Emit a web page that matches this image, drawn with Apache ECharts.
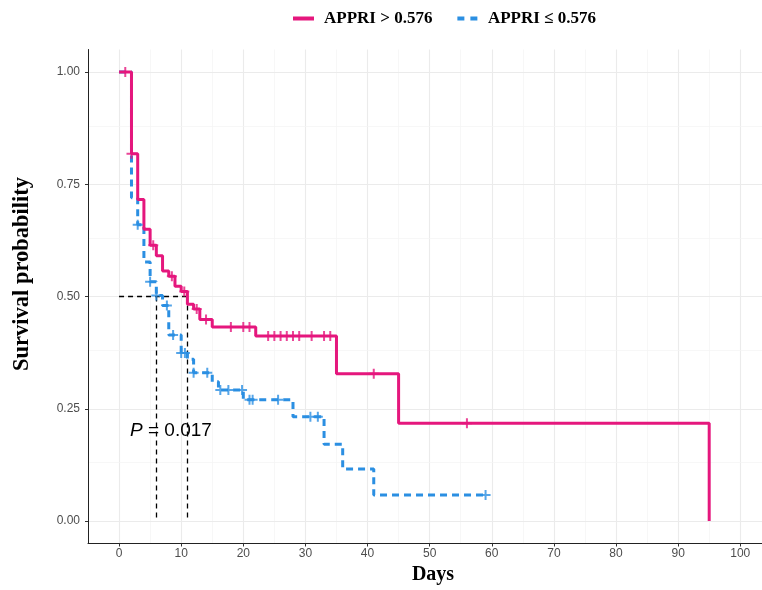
<!DOCTYPE html>
<html>
<head>
<meta charset="utf-8">
<script src="https://cdn.jsdelivr.net/npm/echarts@6/dist/echarts.min.js"></script>
<style>
  html, body { margin: 0; padding: 0; background: #fff; }
  #chart { width: 762px; height: 590px; }
</style>
</head>
<body>
<div id="chart"></div>
<script>
// Kaplan–Meier curves: event times and survival after each step
const highLabel = 'APPRI > 0.576';
const lowLabel = 'APPRI \u2264 0.576';

const highTime = [0, 2, 3, 4, 5, 6, 7, 8, 9, 10, 11, 12, 13, 15, 22, 35, 45, 95];
const highSurv = [1.00, 0.818, 0.716, 0.650, 0.614, 0.591, 0.557, 0.545, 0.523, 0.511, 0.483, 0.472, 0.449, 0.432, 0.412, 0.328, 0.218, 0.00];
const highCensor = [1, 2, 5.5, 8.5, 10.5, 12.5, 14, 18, 20, 21, 24, 25, 26, 27, 28, 29, 31, 33, 34, 41, 56];

const lowTime = [0, 2, 3, 4, 5, 6, 7, 8, 10, 11, 12, 15, 16, 20, 28, 33, 36, 41, 59];
const lowSurv = [1.00, 0.72, 0.66, 0.577, 0.533, 0.502, 0.48, 0.414, 0.374, 0.36, 0.33, 0.31, 0.292, 0.27, 0.232, 0.171, 0.116, 0.058, 0.058];
const lowCensor = [3, 5, 6, 7.7, 8.7, 10, 10.6, 12, 14.2, 16.3, 17.6, 19.8, 21, 21.5, 25.6, 30.8, 32, 59];

// median survival times (S = 0.5)
const medianDays = [6, 11];
const medianLevel = 0.5;
const pValueText = '0.017';

const xBreaks = [0, 10, 20, 30, 40, 50, 60, 70, 80, 90, 100];
const xMinorBreaks = [5, 15, 25, 35, 45, 55, 65, 75, 85, 95];
const yBreaks = [0, 0.25, 0.5, 0.75, 1];
const yMinorBreaks = [0.125, 0.375, 0.625, 0.875];

const pink = '#E5177D';
const blue = '#2B8FE2';
const plusPath = 'path://M4,0H6V4H10V6H6V10H4V6H0V4H4Z';
const serif = 'Liberation Serif, Times New Roman, serif';
const sans = 'Liberation Sans, Arial, sans-serif';

function survAt(times, surv, t) {
  let s = surv[0];
  for (let i = 0; i < times.length; i++) if (times[i] <= t) s = surv[i];
  return s;
}
const pairs = (xs, ys) => xs.map((x, i) => [x, ys[i]]);

const gridLines = [];
xBreaks.forEach(v => gridLines.push({ xAxis: v, lineStyle: { color: '#EBEBEB', width: 1.1, type: 'solid' } }));
xMinorBreaks.forEach(v => gridLines.push({ xAxis: v, lineStyle: { color: '#F3F3F3', width: 0.7, type: 'solid' } }));
yBreaks.forEach(v => gridLines.push({ yAxis: v, lineStyle: { color: '#EBEBEB', width: 1.1, type: 'solid' } }));
yMinorBreaks.forEach(v => gridLines.push({ yAxis: v, lineStyle: { color: '#F3F3F3', width: 0.7, type: 'solid' } }));

const medianLines = [
  [[0, medianLevel], [medianDays[medianDays.length - 1], medianLevel]]
].concat(medianDays.map(d => [[d, medianLevel], [d, 0]]));

const tickFont = { color: '#4D4D4D', fontSize: 12, fontFamily: sans };

const chart = echarts.init(document.getElementById('chart'), null, { renderer: 'canvas' });
chart.setOption({
  animation: false,
  backgroundColor: '#fff',
  grid: { left: 88, right: 0, top: 49.5, bottom: 46.5, containLabel: false },
  legend: {
    top: 5,
    left: 288,
    itemGap: 25,
    itemWidth: 21,
    itemHeight: 4,
    selectedMode: false,
    textStyle: { color: '#000', fontSize: 17, fontWeight: 'bold', fontFamily: serif, padding: [0, 0, 0, 5] },
    data: [
      { name: highLabel, icon: 'rect', itemStyle: { color: pink } },
      { name: lowLabel, icon: 'path://M0,0H7V4H0Z M13,0H20V4H13Z', itemStyle: { color: blue } }
    ]
  },
  xAxis: {
    type: 'value',
    min: -5,
    max: 103.5,
    axisLine: { show: true, onZero: false, lineStyle: { color: '#222', width: 1 } },
    axisTick: { show: true, length: 3, customValues: xBreaks, lineStyle: { color: '#333' } },
    axisLabel: { customValues: xBreaks, margin: 4, ...tickFont },
    splitLine: { show: false }
  },
  yAxis: {
    type: 'value',
    min: -0.05,
    max: 1.05,
    axisLine: { show: true, onZero: false, lineStyle: { color: '#222', width: 1 } },
    axisTick: { show: true, length: 3, customValues: yBreaks, lineStyle: { color: '#333' } },
    axisLabel: { customValues: yBreaks, margin: 8, formatter: v => v.toFixed(2), ...tickFont },
    splitLine: { show: false }
  },
  graphic: [
    {
      type: 'text',
      x: 22,
      y: 274,
      rotation: Math.PI / 2,
      z: 50,
      style: {
        text: 'Survival probability',
        fill: '#000',
        font: 'bold 22.5px ' + serif,
        align: 'center',
        verticalAlign: 'middle'
      }
    },
    {
      type: 'text',
      x: 433,
      y: 575,
      z: 50,
      style: {
        text: 'Days',
        fill: '#000',
        font: 'bold 20px ' + serif,
        align: 'center',
        verticalAlign: 'middle'
      }
    },
    {
      type: 'text',
      left: 130,
      top: 421,
      z: 50,
      style: {
        text: '{i|P} = ' + pValueText,
        fill: '#000',
        font: '19px ' + sans,
        rich: { i: { fontStyle: 'italic', fontSize: 19, fontFamily: sans, fill: '#000' } }
      }
    }
  ],
  series: [
    {
      name: 'grid',
      type: 'line',
      data: [],
      z: 0,
      silent: true,
      markLine: { silent: true, z: 0, symbol: 'none', label: { show: false }, animation: false, data: gridLines }
    },
    {
      name: 'median',
      type: 'line',
      data: [],
      z: 1,
      silent: true,
      markLine: {
        silent: true, z: 1, symbol: 'none', label: { show: false }, animation: false,
        lineStyle: { color: '#000', width: 1.3, type: [5, 4] },
        data: medianLines.map(seg => [{ coord: seg[0] }, { coord: seg[1] }])
      }
    },
    {
      name: lowLabel,
      type: 'line',
      step: 'end',
      showSymbol: false,
      z: 3,
      color: blue,
      lineStyle: { color: blue, width: 3, type: [7, 5] },
      data: pairs(lowTime, lowSurv)
    },
    {
      name: highLabel,
      type: 'line',
      step: 'end',
      showSymbol: false,
      z: 4,
      color: pink,
      lineStyle: { color: pink, width: 3 },
      data: pairs(highTime, highSurv)
    },
    {
      name: lowLabel + ' censored',
      type: 'scatter',
      symbol: plusPath,
      symbolSize: 10,
      z: 5,
      itemStyle: { color: blue },
      data: lowCensor.map(t => [t, survAt(lowTime, lowSurv, t)])
    },
    {
      name: highLabel + ' censored',
      type: 'scatter',
      symbol: plusPath,
      symbolSize: 10,
      z: 6,
      itemStyle: { color: pink },
      data: highCensor.map(t => [t, survAt(highTime, highSurv, t)])
    }
  ]
});
</script>
</body>
</html>
